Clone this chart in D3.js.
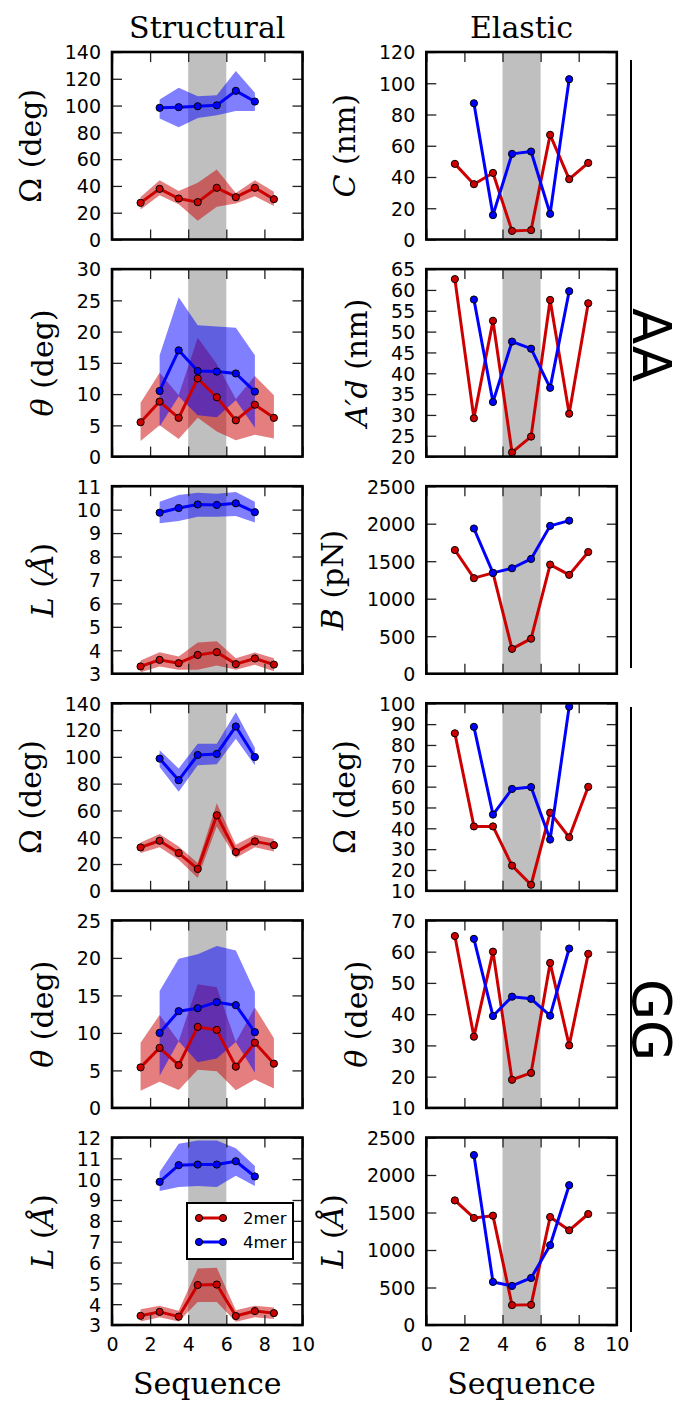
<!DOCTYPE html>
<html><head><meta charset="utf-8">
<script src="https://cdn.jsdelivr.net/npm/d3@7"></script>
<style>body{margin:0;background:#fff}svg{display:block}</style>
</head><body>
<script>
// ---------------- DATA ----------------
const seqTicks = [0, 2, 4, 6, 8, 10];
const x2mer = [1.5, 2.5, 3.5, 4.5, 5.5, 6.5, 7.5, 8.5];
const x4mer = [2.5, 3.5, 4.5, 5.5, 6.5, 7.5];
const seriesNames = ["2mer", "4mer"];
const columnTitles = ["Structural", "Elastic"];
const groupLabels = ["AA", "GG"];

// AA structural: Omega (deg)
const aaOmega2 = [27.4, 37.8, 30.6, 27.9, 38.6, 31.6, 38.6, 30.1];
const aaOmega2Hi = [31.8, 44.3, 36.3, 42.3, 52.2, 34.8, 44.3, 35.6];
const aaOmega2Lo = [22.4, 33.0, 26.4, 14.0, 24.4, 26.9, 32.3, 25.1];
const aaOmega4 = [98.3, 98.8, 99.5, 100.2, 111.0, 103.0];
const aaOmega4Hi = [104.5, 113.4, 107.0, 107.7, 125.9, 109.5];
const aaOmega4Lo = [90.3, 83.8, 90.8, 92.8, 96.0, 96.0];
// AA structural: theta (deg)
const aaTheta2 = [5.5, 8.8, 6.2, 12.5, 9.5, 5.8, 8.3, 6.2];
const aaTheta2Hi = [8.6, 13.4, 9.8, 19.0, 14.8, 9.2, 12.9, 9.8];
const aaTheta2Lo = [2.5, 5.0, 2.8, 6.2, 4.0, 2.6, 3.5, 2.9];
const aaTheta4 = [10.5, 17.0, 13.7, 13.6, 13.3, 10.4];
const aaTheta4Hi = [16.2, 25.5, 21.0, 20.8, 20.6, 16.2];
const aaTheta4Lo = [4.8, 9.6, 6.6, 6.3, 9.0, 4.6];
// AA structural: L (A)
const aaL2 = [3.31, 3.59, 3.45, 3.80, 3.92, 3.41, 3.65, 3.39];
const aaL2Hi = [3.56, 3.92, 3.73, 4.33, 4.38, 3.66, 3.90, 3.66];
const aaL2Lo = [3.06, 3.31, 3.17, 3.17, 3.35, 3.17, 3.38, 3.10];
const aaL4 = [9.87, 10.07, 10.22, 10.20, 10.27, 9.89];
const aaL4Hi = [10.34, 10.62, 10.72, 10.68, 10.75, 10.34];
const aaL4Lo = [9.42, 9.52, 9.70, 9.70, 9.73, 9.45];
// GG structural: Omega (deg)
const ggOmega2 = [32.4, 37.4, 28.2, 16.3, 56.4, 28.9, 36.9, 34.1];
const ggOmega2Hi = [36.0, 42.5, 33.1, 20.8, 65.3, 34.4, 41.8, 38.6];
const ggOmega2Lo = [28.2, 32.6, 23.2, 9.6, 48.0, 24.5, 32.6, 29.4];
const ggOmega4 = [98.7, 82.6, 101.4, 102.2, 122.7, 99.9];
const ggOmega4Hi = [104.9, 91.3, 109.8, 109.8, 133.3, 106.8];
const ggOmega4Lo = [92.5, 74.0, 93.7, 94.5, 113.5, 93.7];
// GG structural: theta (deg)
const ggTheta2 = [5.4, 8.0, 5.7, 10.8, 10.4, 5.5, 8.7, 5.9];
const ggTheta2Hi = [8.7, 12.4, 8.9, 16.5, 16.1, 8.8, 13.4, 9.3];
const ggTheta2Lo = [2.3, 3.5, 2.4, 5.1, 4.9, 2.35, 3.8, 2.6];
const ggTheta4 = [10.0, 12.9, 13.3, 14.1, 13.7, 10.1];
const ggTheta4Hi = [15.6, 19.9, 20.5, 21.6, 21.0, 15.5];
const ggTheta4Lo = [4.3, 8.9, 6.1, 6.6, 8.8, 4.7];
// GG structural: L (A)
const ggL2 = [3.44, 3.63, 3.40, 4.92, 4.94, 3.43, 3.67, 3.57];
const ggL2Hi = [3.76, 3.92, 3.68, 5.71, 5.75, 3.71, 3.92, 3.84];
const ggL2Lo = [3.17, 3.37, 3.17, 4.11, 4.11, 3.16, 3.37, 3.29];
const ggL4 = [9.87, 10.67, 10.70, 10.70, 10.86, 10.13];
const ggL4Hi = [10.35, 11.70, 11.86, 11.86, 11.49, 10.63];
const ggL4Lo = [9.43, 9.63, 9.67, 9.63, 10.16, 9.67];

// Elastic
const aaC2 = [48.4, 35.4, 42.6, 5.5, 6.0, 67.0, 38.6, 49.0];
const aaC4 = [87.2, 15.6, 54.8, 56.3, 16.4, 102.6];
const aaAd2 = [62.6, 29.2, 52.6, 21.0, 24.8, 57.6, 30.3, 56.8];
const aaAd4 = [57.7, 33.1, 47.6, 45.9, 36.5, 59.7];
const aaB2 = [1649, 1274, 1344, 331, 467, 1455, 1318, 1623];
const aaB4 = [1936, 1344, 1406, 1530, 1971, 2041];
const ggOmegaE2 = [85.6, 40.9, 40.9, 22.1, 12.9, 47.5, 35.7, 59.9];
const ggOmegaE4 = [88.7, 46.6, 58.9, 59.8, 34.6, 98.4];
const ggThetaE2 = [65.0, 32.8, 60.0, 19.0, 21.2, 56.4, 30.0, 59.3];
const ggThetaE4 = [64.1, 39.4, 45.6, 44.9, 39.5, 61.0];
const ggLE2 = [1661, 1427, 1458, 265, 269, 1440, 1263, 1480];
const ggLE4 = [2266, 574, 521, 627, 1064, 1864];

// y tick values per panel
const ticksOmega = [0, 20, 40, 60, 80, 100, 120, 140];
const ticksThetaAA = [0, 5, 10, 15, 20, 25, 30];
const ticksLAA = [3, 4, 5, 6, 7, 8, 9, 10, 11];
const ticksThetaGG = [0, 5, 10, 15, 20, 25];
const ticksLGG = [3, 4, 5, 6, 7, 8, 9, 10, 11, 12];
const ticksC = [0, 20, 40, 60, 80, 100, 120];
const ticksAd = [20, 25, 30, 35, 40, 45, 50, 55, 60, 65];
const ticksB = [0, 500, 1000, 1500, 2000, 2500];
const ticksOmegaE = [10, 20, 30, 40, 50, 60, 70, 80, 90, 100];
const ticksThetaE = [10, 20, 30, 40, 50, 60, 70];

// ---------------- LAYOUT ----------------
const Wd = 683, Ht = 1401;
const colLeft = [112, 426.3];
const plotW = 190.5;
const rowTop0 = 52, rowStep = 217.1, plotH = 187.5;
const RED = "#cc0000", BLUE = "#0000ff";

const panels = [
  {col:0,row:0,ticks:ticksOmega,label:[["Ω",0],[" (deg)",0]],r:aaOmega2,rHi:aaOmega2Hi,rLo:aaOmega2Lo,b:aaOmega4,bHi:aaOmega4Hi,bLo:aaOmega4Lo},
  {col:0,row:1,ticks:ticksThetaAA,label:[["θ",1],[" (deg)",0]],r:aaTheta2,rHi:aaTheta2Hi,rLo:aaTheta2Lo,b:aaTheta4,bHi:aaTheta4Hi,bLo:aaTheta4Lo},
  {col:0,row:2,ticks:ticksLAA,label:[["L",1],[" (",0],["Å",1],[")",0]],r:aaL2,rHi:aaL2Hi,rLo:aaL2Lo,b:aaL4,bHi:aaL4Hi,bLo:aaL4Lo},
  {col:0,row:3,ticks:ticksOmega,label:[["Ω",0],[" (deg)",0]],r:ggOmega2,rHi:ggOmega2Hi,rLo:ggOmega2Lo,b:ggOmega4,bHi:ggOmega4Hi,bLo:ggOmega4Lo},
  {col:0,row:4,ticks:ticksThetaGG,label:[["θ",1],[" (deg)",0]],r:ggTheta2,rHi:ggTheta2Hi,rLo:ggTheta2Lo,b:ggTheta4,bHi:ggTheta4Hi,bLo:ggTheta4Lo},
  {col:0,row:5,ticks:ticksLGG,label:[["L",1],[" (",0],["Å",1],[")",0]],r:ggL2,rHi:ggL2Hi,rLo:ggL2Lo,b:ggL4,bHi:ggL4Hi,bLo:ggL4Lo,legend:true},
  {col:1,row:0,ticks:ticksC,label:[["C",1],[" (nm)",0]],r:aaC2,b:aaC4},
  {col:1,row:1,ticks:ticksAd,label:[["A′d",1],[" (nm)",0]],r:aaAd2,b:aaAd4},
  {col:1,row:2,ticks:ticksB,label:[["B",1],[" (pN)",0]],r:aaB2,b:aaB4},
  {col:1,row:3,ticks:ticksOmegaE,label:[["Ω",0],[" (deg)",0]],r:ggOmegaE2,b:ggOmegaE4},
  {col:1,row:4,ticks:ticksThetaE,label:[["θ",1],[" (deg)",0]],r:ggThetaE2,b:ggThetaE4},
  {col:1,row:5,ticks:ticksB,label:[["L",1],[" (",0],["Å",1],[")",0]],r:ggLE2,b:ggLE4}
];

const svg = d3.select("body").append("svg").attr("width", Wd).attr("height", Ht);
const SANS = "DejaVu Sans", SERIF = "DejaVu Serif";
const TICK_FS = 19, LABEL_FS = 30;

panels.forEach((p, i) => {
  const left = colLeft[p.col], top = rowTop0 + rowStep * p.row;
  const x = d3.scaleLinear().domain([0, 10]).range([left, left + plotW]);
  const y = d3.scaleLinear().domain([p.ticks[0], p.ticks[p.ticks.length - 1]]).range([top + plotH, top]);
  const g = svg.append("g");
  const cid = "clip" + i;
  g.append("clipPath").attr("id", cid).append("rect")
    .attr("x", left).attr("y", top).attr("width", plotW).attr("height", plotH);
  const pg = g.append("g").attr("clip-path", `url(#${cid})`);
  // shaded span 4-6
  pg.append("rect").attr("x", x(4)).attr("width", x(6) - x(4))
    .attr("y", top).attr("height", plotH).attr("fill", "#808080").attr("fill-opacity", 0.5);
  // bands
  const band = (xs, lo, hi, col) => {
    const area = d3.area().x((d, k) => x(xs[k])).y0((d, k) => y(lo[k])).y1((d, k) => y(hi[k]));
    pg.append("path").attr("d", area(xs)).attr("fill", col).attr("fill-opacity", 0.5);
  };
  if (p.rHi) band(x2mer, p.rLo, p.rHi, RED);
  if (p.bHi) band(x4mer, p.bLo, p.bHi, BLUE);
  const series = (xs, vals, col) => {
    const line = d3.line().x((d, k) => x(xs[k])).y((d, k) => y(vals[k]));
    pg.append("path").attr("d", line(vals)).attr("fill", "none").attr("stroke", col)
      .attr("stroke-width", 3).attr("stroke-linejoin", "round");
    pg.selectAll(null).data(vals).enter().append("circle")
      .attr("cx", (d, k) => x(xs[k])).attr("cy", d => y(d)).attr("r", 3.6)
      .attr("fill", col).attr("stroke", "#000").attr("stroke-width", 1);
  };
  series(x2mer, p.r, RED);
  series(x4mer, p.b, BLUE);

  // axes (ticks inward on all four sides)
  const styleAxis = (ag) => {
    ag.select(".domain").remove();
    ag.selectAll(".tick line").attr("stroke", "#222").attr("stroke-width", 1.3);
    ag.attr("font-family", SANS).attr("font-size", TICK_FS);
    ag.selectAll("text").attr("fill", "#000");
  };
  const yl = g.append("g").attr("transform", `translate(${left},0)`)
    .call(d3.axisLeft(y).tickValues(p.ticks).tickSize(-10).tickPadding(11).tickFormat(d3.format("d")))
    .call(styleAxis);
  yl.selectAll("text").attr("dy", "0.36em");
  g.append("g").attr("transform", `translate(${left + plotW},0)`)
    .call(d3.axisRight(y).tickValues(p.ticks).tickSize(-10).tickFormat(""))
    .call(styleAxis);
  g.append("g").attr("transform", `translate(0,${top})`)
    .call(d3.axisTop(x).tickValues(seqTicks).tickSize(-10).tickFormat(""))
    .call(styleAxis);
  g.append("g").attr("transform", `translate(0,${top + plotH})`)
    .call(d3.axisBottom(x).tickValues(seqTicks).tickSize(-10).tickPadding(12.5)
      .tickFormat(p.row === 5 ? d3.format("d") : ""))
    .call(styleAxis);

  // frame
  g.append("rect").attr("x", left).attr("y", top).attr("width", plotW).attr("height", plotH)
    .attr("fill", "none").attr("stroke", "#000").attr("stroke-width", 2.6);

  // y label
  const bb = yl.node().getBBox();
  const lx = left + bb.x - 24;
  const lt = svg.append("text").attr("transform", `translate(${lx},${top + plotH / 2}) rotate(-90)`)
    .attr("text-anchor", "middle").attr("font-family", SERIF).attr("font-size", LABEL_FS).attr("fill", "#000");
  p.label.forEach(([t, it]) => {
    lt.append("tspan").text(t).attr("font-style", it ? "italic" : "normal");
  });

  if (p.row === 5) {
    svg.append("text").attr("x", left + plotW / 2).attr("y", 1394).attr("text-anchor", "middle")
      .attr("font-family", SERIF).attr("font-size", LABEL_FS).text("Sequence");
  }
  if (p.row === 0) {
    svg.append("text").attr("x", left + plotW / 2).attr("y", 38).attr("text-anchor", "middle")
      .attr("font-family", SERIF).attr("font-size", LABEL_FS).text(columnTitles[p.col]);
  }

  if (p.legend) {
    const lg = svg.append("g");
    lg.append("rect").attr("x", 187).attr("y", 1203).attr("width", 106).attr("height", 56)
      .attr("fill", "#fff").attr("stroke", "#000").attr("stroke-width", 2);
    [[RED, 1218], [BLUE, 1242]].forEach(([col, yy], k) => {
      lg.append("line").attr("x1", 199).attr("x2", 223).attr("y1", yy).attr("y2", yy)
        .attr("stroke", col).attr("stroke-width", 3);
      [199, 223].forEach(cx => lg.append("circle").attr("cx", cx).attr("cy", yy).attr("r", 3.6)
        .attr("fill", col).attr("stroke", "#000").attr("stroke-width", 1));
      lg.append("text").attr("x", 243).attr("y", yy).attr("dy", "0.36em")
        .attr("font-family", SANS).attr("font-size", 16.5).text(seriesNames[k]);
    });
  }
});

// group separators and labels
[[60, 668, 345], [707, 1332, 1020]].forEach(([y1, y2, cy], k) => {
  svg.append("line").attr("x1", 631).attr("x2", 631).attr("y1", y1).attr("y2", y2)
    .attr("stroke", "#000").attr("stroke-width", 2);
  svg.append("text").attr("transform", `translate(633,${cy}) rotate(90)`)
    .attr("text-anchor", "middle").attr("font-family", SANS).attr("font-size", 53)
    .text(groupLabels[k]);
});
</script>
</body></html>
